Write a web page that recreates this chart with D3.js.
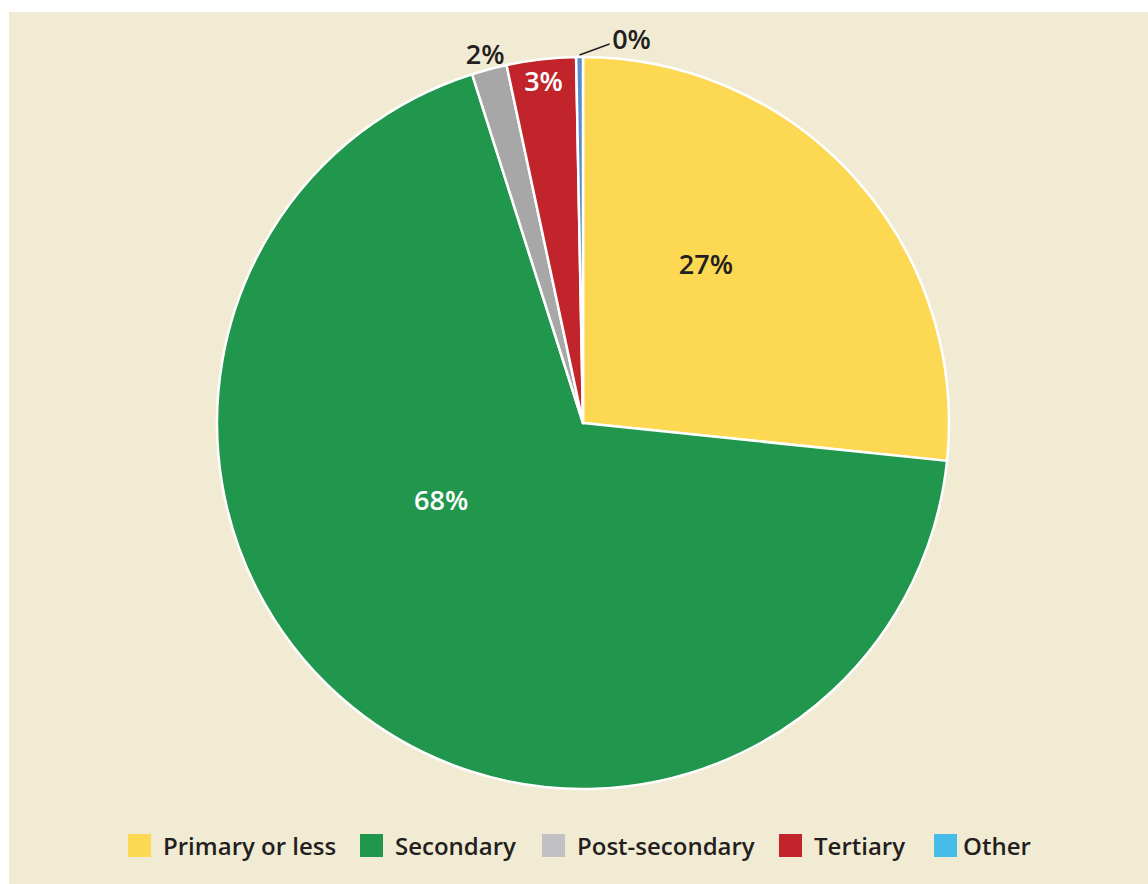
<!DOCTYPE html>
<html>
<head>
<meta charset="utf-8">
<script src="https://cdn.jsdelivr.net/npm/d3@7"></script>
<style>
  html, body { margin: 0; padding: 0; background: #ffffff; }
  svg { display: block; }
  text { font-family: "Open Sans", "Noto Sans", sans-serif; }
</style>
</head>
<body>
<svg id="chart" width="1148" height="884"></svg>
<script>
// Education level shares (percent)
const categories = ["Primary or less", "Secondary", "Post-secondary", "Tertiary", "Other"];
const shares = [26.65, 68.45, 1.55, 3.05, 0.3];

const sliceColors = ["#fcd853", "#21964d", "#a7a7a7", "#c1242b", "#5a8ccc"];
const legendColors = ["#fcd853", "#21964d", "#c1c1c3", "#c1242b", "#46bde8"];
const labelColors = ["#231f20", "#ffffff", "#231f20", "#ffffff", "#231f20"];

const W = 1148, H = 884;
const cx = 583, cy = 423, R = 366;

const svg = d3.select("#chart");

// panel background
svg.append("rect")
  .attr("x", 9).attr("y", 12)
  .attr("width", W - 9).attr("height", H - 12)
  .attr("fill", "#f2ebd3");

const data = categories.map((c, i) => ({ name: c, value: shares[i], i }));

const pie = d3.pie().value(d => d.value).sort(null);
const arcs = pie(data);

const arc = d3.arc().innerRadius(0).outerRadius(R);

const g = svg.append("g").attr("transform", `translate(${cx},${cy})`);

g.selectAll("path.slice")
  .data(arcs)
  .enter().append("path")
  .attr("class", "slice")
  .attr("d", arc)
  .attr("fill", d => sliceColors[d.data.i])
  .attr("stroke", "#ffffff")
  .attr("stroke-width", 2.5)
  .attr("stroke-linejoin", "round");

// label radius for each slice; small slices sit just outside the rim
const labelRadius = [201, 161, 382, 345, 368];
// the two large slices carry their labels off the mid-angle
const labelAngle = [37.7 * Math.PI / 180, 241.8 * Math.PI / 180, null, null, null];

const fmt = v => Math.round(v) + "%";

arcs.forEach((d, k) => {
  const mid = labelAngle[k] != null ? labelAngle[k] : (d.startAngle + d.endAngle) / 2;
  const r = labelRadius[k];
  let x = r * Math.sin(mid), y = -r * Math.cos(mid);
  if (k === 4) {
    // leader line for the tiny slice
    g.append("line")
      .attr("x1", x).attr("y1", y)
      .attr("x2", x + 30).attr("y2", y - 11)
      .attr("stroke", "#231f20").attr("stroke-width", 1.5);
    x += 52;
    y -= 17;
  }
  g.append("text")
    .attr("x", x).attr("y", y)
    .attr("text-anchor", "middle")
    .attr("dominant-baseline", "central")
    .attr("font-size", 27)
    .attr("font-weight", 600)
    .attr("fill", labelColors[k])
    .text(fmt(d.data.value));
});

// legend
const legendX = [128, 360, 542, 779, 934];
const legend = svg.append("g");
categories.forEach((c, i) => {
  legend.append("rect")
    .attr("x", legendX[i]).attr("y", 834)
    .attr("width", 23).attr("height", 23)
    .attr("fill", legendColors[i]);
  legend.append("text")
    .attr("x", legendX[i] + (i === 4 ? 29 : 35)).attr("y", 845)
    .attr("dominant-baseline", "central")
    .attr("font-size", 24)
    .attr("font-weight", 600)
    .attr("fill", "#231f20")
    .text(c);
});
</script>
</body>
</html>
